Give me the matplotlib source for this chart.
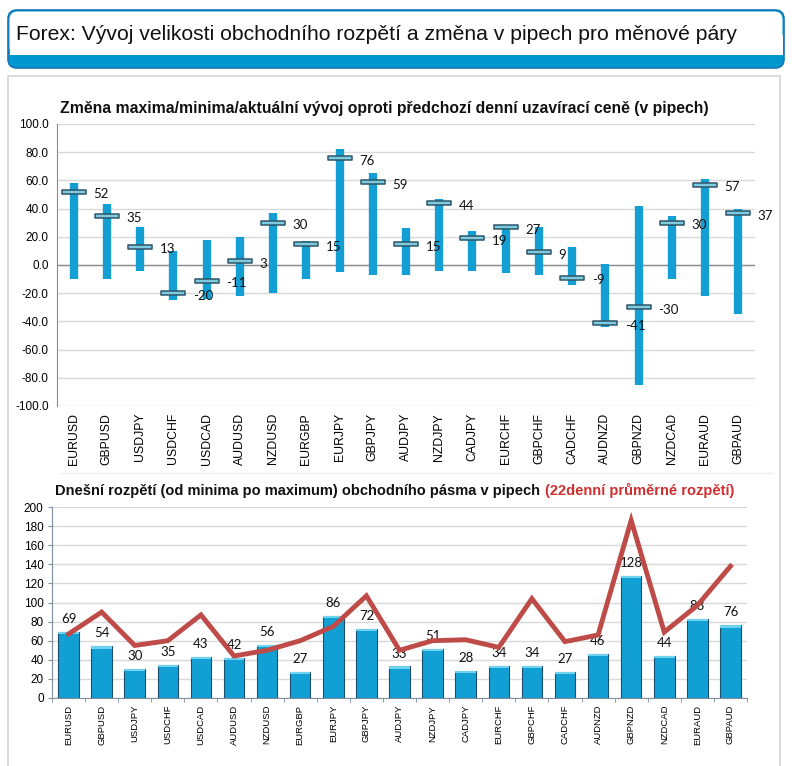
import matplotlib
matplotlib.use('Agg')
import matplotlib.pyplot as plt
from matplotlib.patches import FancyBboxPatch, Rectangle
from matplotlib.path import Path
import numpy as np

# data
pairs = ['EURUSD', 'GBPUSD', 'USDJPY', 'USDCHF', 'USDCAD', 'AUDUSD', 'NZDUSD',
         'EURGBP', 'EURJPY', 'GBPJPY', 'AUDJPY', 'NZDJPY', 'CADJPY', 'EURCHF',
         'GBPCHF', 'CADCHF', 'AUDNZD', 'GBPNZD', 'NZDCAD', 'EURAUD', 'GBPAUD']
change_now = [52, 35, 13, -20, -11, 3, 30, 15, 76, 59, 15, 44, 19, 27, 9, -9, -41, -30, 30, 57, 37]
change_max = [58, 43, 27, 10, 18, 20, 37, 17, 82, 65, 26, 47, 24, 28, 27, 13, 1, 42, 35, 61, 40]
change_min = [-10, -10, -4, -25, -24, -22, -20, -10, -5, -7, -7, -4, -4, -6, -7, -14, -44, -85, -10, -22, -35]

range_today = [69, 54, 30, 35, 43, 42, 56, 27, 86, 72, 33, 51, 28, 34, 34, 27, 46, 128, 44, 83, 76]
range_avg22 = [67, 90, 55, 60, 87, 44, 50, 60, 75, 107, 50, 60, 61, 53, 104, 59, 66, 186, 69, 97, 138]

W, H = 792, 766
BLUE = '#139FD3'
RED = '#BE4B48'
GRID = '#D9D9D9'

fig = plt.figure(figsize=(W / 100, H / 100), dpi=100)
fig.patch.set_facecolor('white')


def px_axes(left, top, right, bottom, **kw):
    return fig.add_axes([left / W, 1 - bottom / H, (right - left) / W, (bottom - top) / H], **kw)


# background layer in pixel coordinates
bg = fig.add_axes([0, 0, 1, 1], zorder=-5)
bg.set_xlim(0, W)
bg.set_ylim(H, 0)
bg.axis('off')
bg.add_patch(FancyBboxPatch((8, 10), 776, 58, boxstyle='round,pad=0,rounding_size=9',
                            facecolor='#0096CE', edgecolor='#1677B6', lw=1.2))
bg.add_patch(FancyBboxPatch((9.5, 11.5), 773, 43, boxstyle='round,pad=0,rounding_size=8',
                            facecolor='white', edgecolor='none'))
bg.add_patch(Rectangle((9.5, 35), 773, 20, facecolor='white', edgecolor='none'))
bg.add_patch(Rectangle((8, 76), 772, 700, facecolor='white', edgecolor='#D4D4D4', lw=1.2))
bg.plot([60, 772], [473, 473], color='#EEEEEE', lw=1)
bg.text(16, 34.5, 'Forex: Vývoj velikosti obchodního rozpětí a změna v pipech pro měnové páry',
        fontsize=15.2, family='Liberation Sans', va='center', ha='left',
        color='#111111')

x = np.arange(len(pairs))

# ---- top chart: high/low range with current change marker
ax1 = px_axes(57, 124, 755, 406)
ax1.set_xlim(-0.5, len(pairs) - 0.5)
ax1.set_ylim(-100, 100)
ax1.set_yticks(np.arange(-100, 101, 20))
ax1.set_yticklabels([f'{v:.1f}' for v in np.arange(-100, 101, 20)], fontsize=8.5,
                    family='Liberation Sans')
ax1.yaxis.grid(True, color=GRID, lw=1)
ax1.set_axisbelow(True)
ax1.axhline(0, color='#8C8C8C', lw=1, zorder=1)
for s in ['top', 'right', 'bottom']:
    ax1.spines[s].set_visible(False)
ax1.spines['left'].set_color('#8C8C8C')
ax1.tick_params(axis='y', length=0, pad=6)
ax1.tick_params(axis='x', length=0, pad=5)
ax1.set_xticks(x)
ax1.set_xticklabels(pairs, rotation=90, fontsize=8.8, family='Liberation Sans')

ax1.vlines(x, change_min, change_max, color=BLUE, lw=6, zorder=2)
cap = Path([(-1, -0.19), (1, -0.19), (1, 0.19), (-1, 0.19), (-1, -0.19)],
           [Path.MOVETO, Path.LINETO, Path.LINETO, Path.LINETO, Path.CLOSEPOLY])
ax1.plot(x, change_now, ls='none', marker=cap, markersize=17.5, markerfacecolor='#7CCBE0',
         markeredgecolor='#2E5566', markeredgewidth=1.1, zorder=3)
for xi, v in zip(x, change_now):
    ax1.annotate(str(v), (xi, v), xytext=(14, -2), textcoords='offset points',
                 ha='left', va='center', fontsize=9.5, family='Lato', color='#111111')
ax1.text(0.005, 1.03, 'Změna maxima/minima/aktuální vývoj oproti předchozí denní uzavírací ceně (v pipech)',
         transform=ax1.transAxes, fontsize=11.3, fontweight='bold', family='Liberation Sans',
         ha='left', va='bottom', color='#111111')

# ---- bottom chart: today's range vs 22-day average range
ax2 = px_axes(52, 507, 747, 698)
ax2.set_xlim(-0.5, len(pairs) - 0.5)
ax2.set_ylim(0, 200)
ax2.set_yticks(np.arange(0, 201, 20))
ax2.tick_params(axis='y', labelsize=8.5, length=3, color='#7F8FA0', pad=3)
for lab in ax2.get_yticklabels():
    lab.set_family('Liberation Sans')
ax2.yaxis.grid(True, color=GRID, lw=1)
ax2.set_axisbelow(True)
for s in ['top', 'right']:
    ax2.spines[s].set_visible(False)
ax2.spines['left'].set_color('#7F8FA0')
ax2.spines['bottom'].set_color('#7F8FA0')
ax2.set_xticks(x)
ax2.set_xticklabels(pairs, rotation=90, fontsize=6.8, family='Liberation Sans')
ax2.set_xticks(np.arange(-0.5, len(pairs), 1), minor=True)
ax2.tick_params(axis='x', which='major', length=0, pad=5)
ax2.tick_params(axis='x', which='minor', length=3, color='#7F8FA0')

bars = ax2.bar(x, range_today, width=0.62, color='#12A0D4', edgecolor='#1D4E6E', lw=0.8, zorder=2)
for b in bars:
    ax2.add_patch(Rectangle((b.get_x(), b.get_height() - 2.2), b.get_width(), 2.2,
                            facecolor='#6FD3F0', edgecolor='none', zorder=3))
for xi, v in zip(x, range_today):
    ax2.annotate(str(v), (xi, v), xytext=(0, 5), textcoords='offset points',
                 ha='center', va='bottom', fontsize=9.5, family='Lato', color='#111111')
ax2.plot(x, range_avg22, color=RED, lw=3.5, zorder=4, solid_joinstyle='miter')

t1 = ax2.text(0.005, 1.045, 'Dnešní rozpětí (od minima po maximum) obchodního pásma v pipech ',
              transform=ax2.transAxes, fontsize=10.5, fontweight='bold', family='Liberation Sans',
              ha='left', va='bottom', color='#111111')
ax2.annotate('(22denní průměrné rozpětí)', xy=(1, 0), xycoords=t1, ha='left', va='bottom',
             fontsize=10.5, fontweight='bold', family='Liberation Sans', color='#D12F2F')

fig.savefig('out.png', dpi=100)
